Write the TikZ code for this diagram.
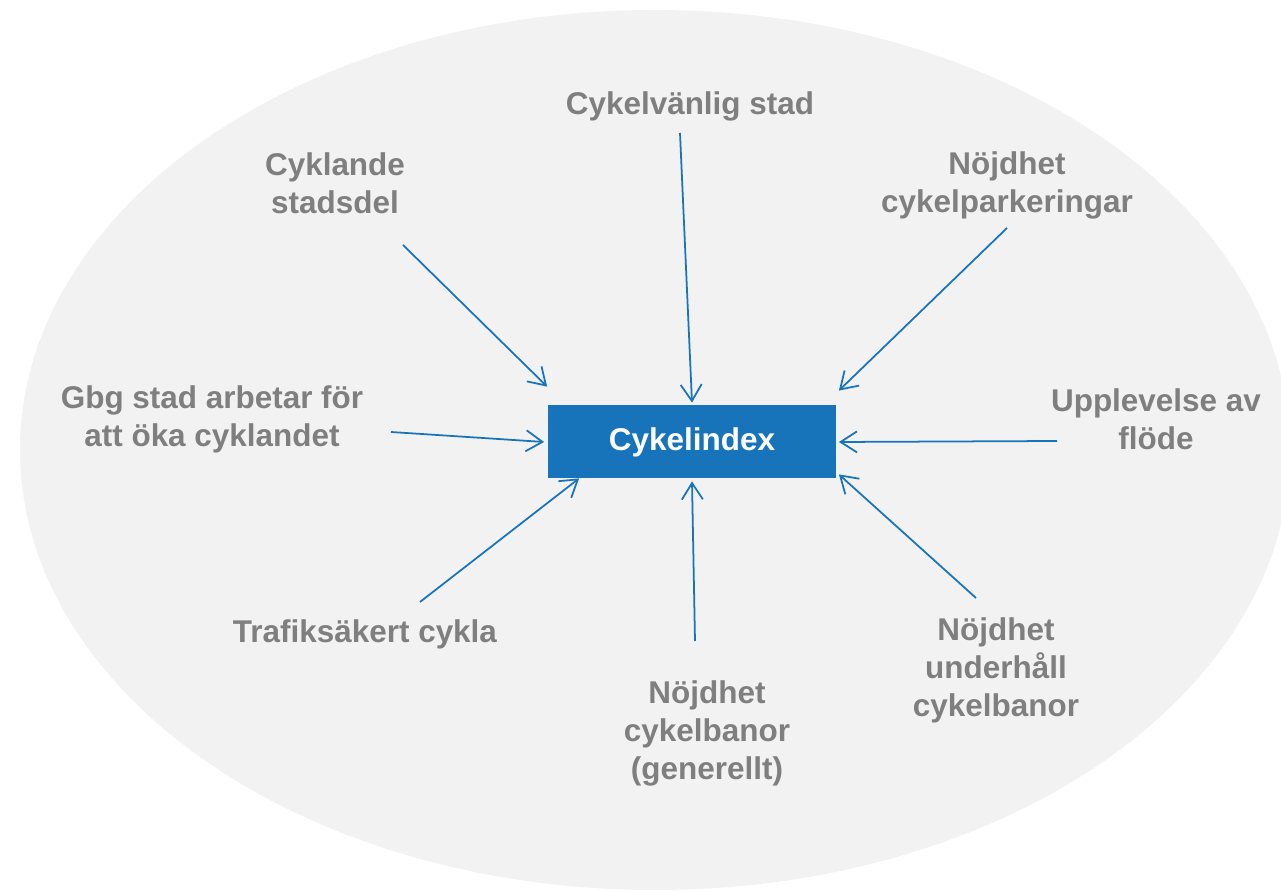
\documentclass[tikz,border=0pt]{standalone}
\usepackage{fontspec}
\setmainfont{Liberation Sans}
\usepackage{xcolor}
\usetikzlibrary{arrows.meta, positioning}
\definecolor{bl}{HTML}{1874BA}
\definecolor{gr}{HTML}{7F7F7F}
\definecolor{bg}{HTML}{F2F2F2}

\begin{document}
\begin{tikzpicture}[
      > = {Straight Barb[length=3.3mm, width=4.2mm]}, % open arrow head
      line width = 1pt,
    ]

    \tikzset{
      factor/.style = {
        text = gr,
        align = center,
        font = \fontsize{17.9}{21.6}\selectfont\bfseries
      },
      feed/.style = {draw = bl, ->}
    }

    \useasboundingbox (0, 0) rectangle (25.62, 17.84);
    \fill[bg] (13.10, 8.84) ellipse [x radius = 12.7, y radius = 8.8];

    \node[fill = bl, minimum width = 5.76cm, minimum height = 1.46cm,
          text = white, font = \fontsize{17.9}{21.6}\selectfont\bfseries]
          (index) at (13.84, 9.00) {Cykelindex};

    \node[factor] (vanlig) at (13.80, 15.72) {Cykelvänlig stad};
    \node[factor] (stadsdel) at (6.70, 14.18) {Cyklande\\stadsdel};
    \node[factor] (parkering) at (20.14, 14.13) {Nöjdhet\\cykelparkeringar};
    \node[factor] (gbg) at (4.24, 9.46) {Gbg stad arbetar för\\att öka cyklandet};
    \node[factor] (flode) at (23.12, 9.46) {Upplevelse av\\flöde};
    \node[factor] (trafik) at (7.30, 5.16) {Trafiksäkert cykla};
    \node[factor] (banor) at (14.14, 3.18) {Nöjdhet\\cykelbanor\\(generellt)};
    \node[factor] (underhall) at (19.92, 4.44) {Nöjdhet\\underhåll\\cykelbanor};

    % start points of the arrows
    \coordinate (s-stadsdel) at (8.06, 12.94);
    \coordinate (s-vanlig) at (13.60, 15.18);
    \coordinate (s-parkering) at (20.14, 13.28);
    \coordinate (s-gbg) at (7.82, 9.20);
    \coordinate (s-flode) at (21.14, 9.02);
    \coordinate (s-trafik) at (8.40, 5.80);
    \coordinate (s-banor) at (13.90, 5.02);
    \coordinate (s-underhall) at (19.52, 5.88);

    \draw[feed] (s-stadsdel) -- ([yshift = 3.6mm]index.north west);
    \draw[feed] (s-vanlig) -- ([yshift = 0.4mm]index.north);
    \draw[feed] (s-parkering) -- ([xshift = 0.4mm, yshift = 2.8mm]index.north east);
    \draw[feed] (s-gbg) -- ([xshift = -0.6mm]index.west);
    \draw[feed] (s-flode) -- ([xshift = 0.4mm]index.east);
    \draw[feed] (s-trafik) -- ([xshift = 6.4mm, yshift = 0.2mm]index.south west);
    \draw[feed] (s-banor) -- ([yshift = -0.4mm]index.south);
    \draw[feed] (s-underhall) -- ([xshift = 0.4mm, yshift = 1mm]index.south east);
  \end{tikzpicture}
\end{document}
